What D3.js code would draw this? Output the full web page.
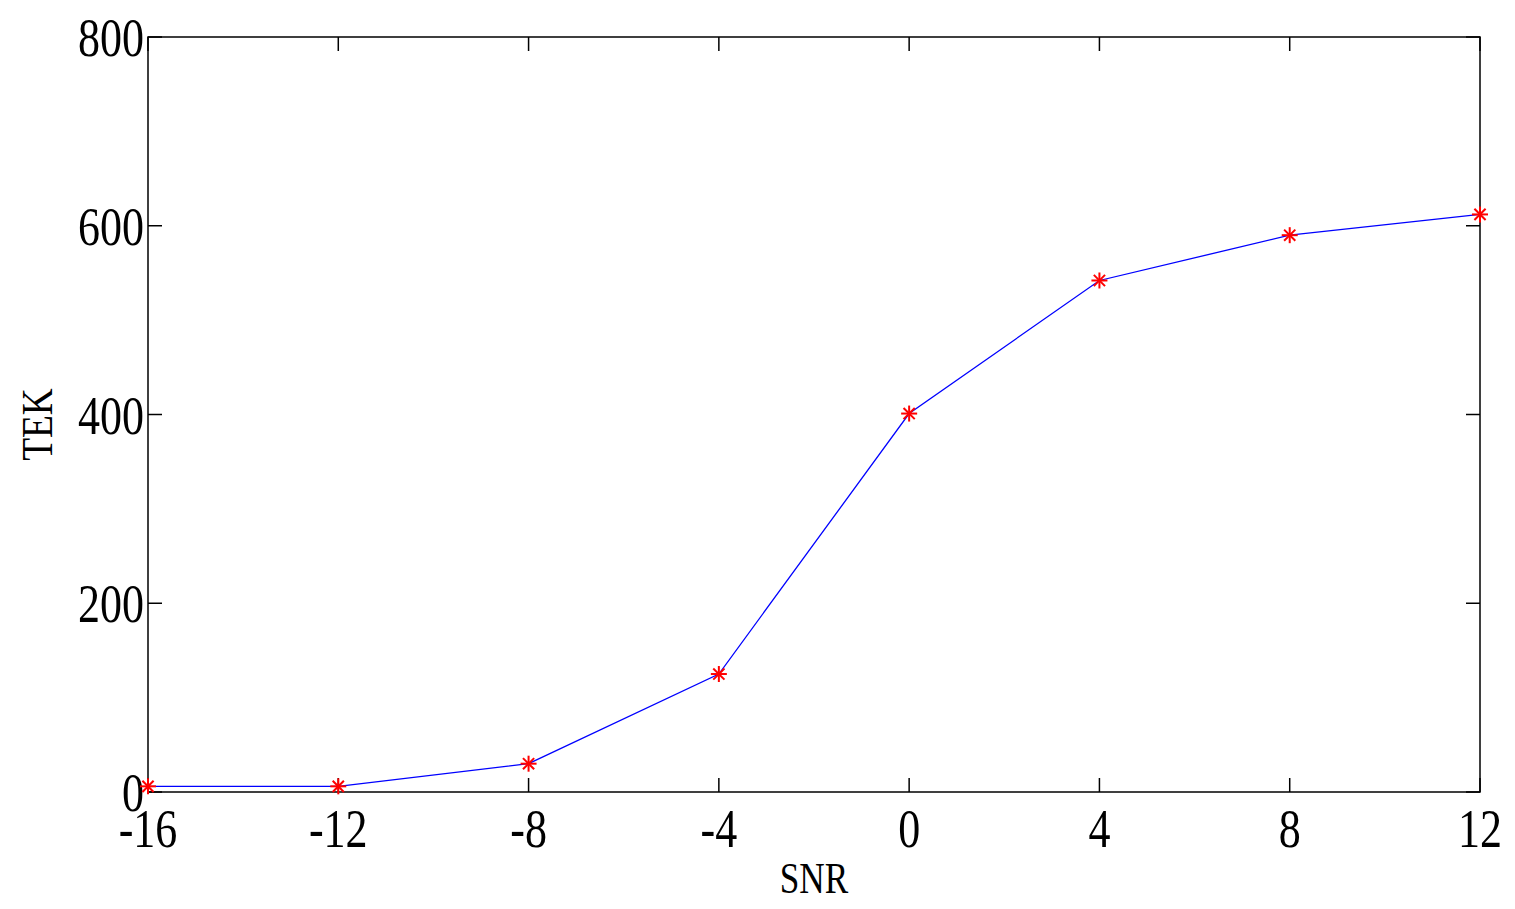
<!DOCTYPE html>
<html><head><meta charset="utf-8">
<script src="https://cdnjs.cloudflare.com/ajax/libs/d3/7.8.5/d3.min.js"></script>
<style>body{margin:0;background:#fff}</style></head>
<body><svg id="c" width="1515" height="909"></svg>
<script>
const snr = [-16,-12,-8,-4,0,4,8,12];
const tek = [6,6,30,125,401,542,590,612];
const xTicks = [-16,-12,-8,-4,0,4,8,12];
const yTicks = [0,200,400,600,800];

const svg = d3.select("#c");
const L=148,R=1480,T=37,B=792;
const x = d3.scaleLinear().domain([-16,12]).range([L,R]);
const y = d3.scaleLinear().domain([0,800]).range([B,T]);
const font = "'Liberation Serif','Times New Roman',serif";

svg.append("rect").attr("x",L).attr("y",T).attr("width",R-L).attr("height",B-T)
  .attr("fill","none").attr("stroke","#000").attr("stroke-width",1.5);

const tl=14;
xTicks.forEach(v=>{
  svg.append("line").attr("x1",x(v)).attr("x2",x(v)).attr("y1",B).attr("y2",B-tl).attr("stroke","#000").attr("stroke-width",1.5);
  svg.append("line").attr("x1",x(v)).attr("x2",x(v)).attr("y1",T).attr("y2",T+tl).attr("stroke","#000").attr("stroke-width",1.5);
  svg.append("text").attr("transform",`translate(${x(v)},${B+55}) scale(0.8,1)`)
    .attr("text-anchor","middle").attr("font-family",font).attr("font-size",55).text(v);
});
yTicks.forEach(v=>{
  svg.append("line").attr("x1",L).attr("x2",L+tl).attr("y1",y(v)).attr("y2",y(v)).attr("stroke","#000").attr("stroke-width",1.5);
  svg.append("line").attr("x1",R).attr("x2",R-tl).attr("y1",y(v)).attr("y2",y(v)).attr("stroke","#000").attr("stroke-width",1.5);
  svg.append("text").attr("transform",`translate(${L-4},${y(v)+19}) scale(0.8,1)`)
    .attr("text-anchor","end").attr("font-family",font).attr("font-size",55).text(v);
});

svg.append("text").attr("transform",`translate(${(L+R)/2},${893}) scale(0.8,1)`)
  .attr("text-anchor","middle").attr("font-family",font).attr("font-size",44).text("SNR");
svg.append("text").attr("transform",`translate(52,${(T+B)/2+10}) rotate(-90) scale(0.85,1)`)
  .attr("text-anchor","middle").attr("font-family",font).attr("font-size",44).text("TEK");

const data = snr.map((s,i)=>({s,t:tek[i]}));
svg.append("path").datum(data).attr("fill","none").attr("stroke","#0000ff").attr("stroke-width",1.3)
  .attr("d",d3.line().x(d=>x(d.s)).y(d=>y(d.t)));
const star = svg.selectAll("g.m").data(data).join("g").attr("transform",d=>`translate(${x(d.s)},${y(d.t)})`);
const r=8;
[[-r,0,r,0],[0,-r,0,r],[-r*0.7,-r*0.7,r*0.7,r*0.7],[-r*0.7,r*0.7,r*0.7,-r*0.7]].forEach(l=>{
  star.append("line").attr("x1",l[0]).attr("y1",l[1]).attr("x2",l[2]).attr("y2",l[3]).attr("stroke","#ff0000").attr("stroke-width",2);
});
</script></body></html>
